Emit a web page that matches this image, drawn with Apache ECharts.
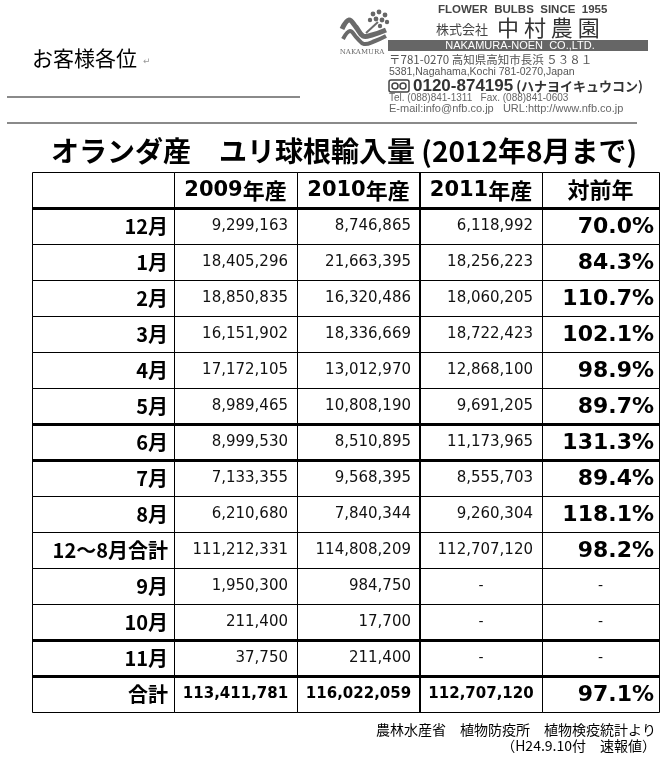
<!DOCTYPE html>
<html>
<head>
<meta charset="utf-8">
<script src="https://cdn.jsdelivr.net/npm/echarts@6/dist/echarts.min.js"></script>
<style>
  html, body { margin: 0; padding: 0; background: #fff; }
  #main { width: 670px; height: 758px; }
</style>
</head>
<body>
<div id="main"></div>
<script>
// 表の中身
const rowLabels = ['12月', '1月', '2月', '3月', '4月', '5月', '6月', '7月', '8月', '12～8月合計', '9月', '10月', '11月', '合計'];
const yearHeaders = ['2009年産', '2010年産', '2011年産'];
const ratioHeader = '対前年';
const imports2009 = [9299163, 18405296, 18850835, 16151902, 17172105, 8989465, 8999530, 7133355, 6210680, 111212331, 1950300, 211400, 37750, 113411781];
const imports2010 = [8746865, 21663395, 16320486, 18336669, 13012970, 10808190, 8510895, 9568395, 7840344, 114808209, 984750, 17700, 211400, 116022059];
const imports2011 = [6118992, 18256223, 18060205, 18722423, 12868100, 9691205, 11173965, 8555703, 9260304, 112707120, null, null, null, 112707120];
const yoyRatio = [70.0, 84.3, 110.7, 102.1, 98.9, 89.7, 131.3, 89.4, 118.1, 98.2, null, null, null, 97.1];

// レイアウト（列の境界、太線の行）
const colEdges = [0, 142, 265, 388, 510, 627];
const thickBottomRows = [0, 6, 7, 12, 13];
const thickLeftCol = 3;

const series = [imports2009, imports2010, imports2011];
const yCats = [''].concat(rowLabels);
const lastRow = rowLabels.length - 1;

const CJK = '"Noto Sans CJK JP"';
const NUM = '"DejaVu Sans"';

function fmt(v) {
  return String(v).replace(/\B(?=(\d{3})+(?!\d))/g, ',');
}

const cells = [];
for (let r = 0; r < yCats.length; r++) {
  for (let c = 0; c < colEdges.length - 1; c++) {
    cells.push([c, r]);
  }
}

function cellText(c, r, x0, x1, cy) {
  const mid = (x0 + x1) / 2;
  if (r === 0) {
    if (c === 0) return null;
    if (c === 4) {
      return { text: ratioHeader, x: mid, y: cy, align: 'center', verticalAlign: 'middle',
        font: 'bold 22px ' + CJK, fill: '#000' };
    }
    const h = yearHeaders[c - 1];
    return {
      text: '{d|' + h.slice(0, 4) + '}{c|' + h.slice(4) + '}',
      x: mid, y: cy + 1, align: 'center', verticalAlign: 'middle',
      rich: {
        d: { font: 'bold 21px ' + NUM, fill: '#000' },
        c: { font: 'bold 22px ' + CJK, fill: '#000' }
      }
    };
  }
  const i = r - 1;
  if (c === 0) {
    return { text: rowLabels[i], x: x1 - 6, y: cy, align: 'right', verticalAlign: 'middle',
      font: 'bold 20px ' + CJK, fill: '#000' };
  }
  if (c <= 3) {
    const v = series[c - 1][i];
    if (v == null) {
      return { text: '-', x: mid, y: cy, align: 'center', verticalAlign: 'middle',
        font: '14px ' + NUM, fill: '#111' };
    }
    if (i === lastRow) {
      return { text: fmt(v), x: mid, y: cy, align: 'center', verticalAlign: 'middle',
        font: 'bold 15px ' + NUM, fill: '#000' };
    }
    return { text: fmt(v), x: x1 - 9, y: cy, align: 'right', verticalAlign: 'middle',
      font: '15px ' + NUM, fill: '#111' };
  }
  const p = yoyRatio[i];
  if (p == null) {
    return { text: '-', x: mid, y: cy, align: 'center', verticalAlign: 'middle',
      font: '14px ' + NUM, fill: '#111' };
  }
  return { text: p.toFixed(1) + '%', x: x1 - 5, y: cy + 1, align: 'right', verticalAlign: 'middle',
    font: 'bold 22px ' + NUM, fill: '#000' };
}

function renderCell(params, api) {
  const c = api.value(0);
  const r = api.value(1);
  const a = api.coord([colEdges[c], r]);
  const b = api.coord([colEdges[c + 1], r]);
  const h = api.size([0, 1])[1];
  const x0 = Math.round(a[0]);
  const x1 = Math.round(b[0]);
  const y0 = Math.round(a[1] - h / 2);
  const y1 = Math.round(a[1] + h / 2);
  const children = [{
    type: 'rect',
    shape: { x: x0 + 0.5, y: y0 + 0.5, width: x1 - x0, height: y1 - y0 },
    style: { fill: 'none', stroke: '#000', lineWidth: 1 }
  }];
  if (thickBottomRows.indexOf(r) >= 0) {
    children.push({ type: 'line', shape: { x1: x0, y1: y1 + 0.5, x2: x1 + 1, y2: y1 + 0.5 },
      style: { stroke: '#000', lineWidth: 3 } });
  }
  if (c === thickLeftCol) {
    children.push({ type: 'line', shape: { x1: x0, y1: y0, x2: x0, y2: y1 + 1 },
      style: { stroke: '#000', lineWidth: 2 } });
  }
  const t = cellText(c, r, x0, x1, (y0 + y1) / 2);
  if (t) children.push({ type: 'text', style: t });
  return { type: 'group', children: children };
}

// 上部のレターヘッド
const gray = '#555';
const header = [
  { type: 'text', x: 32, y: 58, style: { text: 'お客様各位', font: '21px ' + CJK, fill: '#000', verticalAlign: 'middle' } },
  { type: 'text', x: 143, y: 62, style: { text: '↵', font: '9px ' + NUM, fill: '#999', verticalAlign: 'middle' } },
  { type: 'line', shape: { x1: 7, y1: 97, x2: 300, y2: 97 }, style: { stroke: '#8a8a8a', lineWidth: 2 } },
  { type: 'line', shape: { x1: 7, y1: 123, x2: 637, y2: 123 }, style: { stroke: '#8a8a8a', lineWidth: 2 } },
  // ロゴ
  { type: 'polyline', shape: { points: [[342, 29], [349, 20], [356, 27], [363, 36], [372, 35], [386, 30]], smooth: 0.4 },
    style: { stroke: '#6a6a6a', lineWidth: 5, fill: 'none' } },
  { type: 'polyline', shape: { points: [[343, 39], [350, 31], [357, 38], [364, 44], [375, 41], [386, 36]], smooth: 0.4 },
    style: { stroke: '#6a6a6a', lineWidth: 4, fill: 'none' } },
  { type: 'line', shape: { x1: 366, y1: 33, x2: 378, y2: 22 }, style: { stroke: '#6a6a6a', lineWidth: 2 } },
  { type: 'circle', shape: { cx: 373, cy: 14, r: 2.4 }, style: { fill: '#666' } },
  { type: 'circle', shape: { cx: 379, cy: 12, r: 2.4 }, style: { fill: '#666' } },
  { type: 'circle', shape: { cx: 385, cy: 15, r: 2.4 }, style: { fill: '#666' } },
  { type: 'circle', shape: { cx: 376, cy: 19, r: 2.4 }, style: { fill: '#666' } },
  { type: 'circle', shape: { cx: 382, cy: 20, r: 2.4 }, style: { fill: '#666' } },
  { type: 'circle', shape: { cx: 387, cy: 22, r: 2.2 }, style: { fill: '#666' } },
  { type: 'circle', shape: { cx: 370, cy: 20, r: 2.2 }, style: { fill: '#666' } },
  { type: 'circle', shape: { cx: 380, cy: 26, r: 2.2 }, style: { fill: '#666' } },
  { type: 'text', x: 362, y: 52, style: { text: 'NAKAMURA', font: '7px "DejaVu Serif"', fill: '#666', align: 'center', verticalAlign: 'middle' } },
  // 会社名
  { type: 'text', x: 438, y: 10, style: { text: 'FLOWER  BULBS  SINCE  1955', font: 'bold 11.5px "Liberation Sans"', fill: '#444', verticalAlign: 'middle' } },
  { type: 'text', x: 436, y: 29, style: { text: '株式会社', font: '13px ' + CJK, fill: '#444', verticalAlign: 'middle' } },
  { type: 'text', x: 497, y: 28, style: { text: '中 村 農 園', font: '22px ' + CJK, fill: '#333', verticalAlign: 'middle' } },
  { type: 'rect', shape: { x: 388, y: 40, width: 260, height: 11 }, style: { fill: '#666' } },
  { type: 'text', x: 520, y: 46, style: { text: 'NAKAMURA-NOEN  CO.,LTD.', font: '11px "Liberation Sans"', fill: '#fff', align: 'center', verticalAlign: 'middle' } },
  { type: 'text', x: 389, y: 60, style: { text: '〒781-0270 高知県高知市長浜 ５３８１', font: '11.5px ' + CJK, fill: gray, verticalAlign: 'middle' } },
  { type: 'text', x: 389, y: 72, style: { text: '5381,Nagahama,Kochi 781-0270,Japan', font: '10.5px "Liberation Sans"', fill: gray, verticalAlign: 'middle' } },
  { type: 'rect', shape: { x: 389, y: 80, width: 20, height: 12, r: 2 }, style: { fill: 'none', stroke: '#444', lineWidth: 1.5 } },
  { type: 'circle', shape: { cx: 395, cy: 86, r: 3 }, style: { fill: 'none', stroke: '#444', lineWidth: 1.5 } },
  { type: 'circle', shape: { cx: 403, cy: 86, r: 3 }, style: { fill: 'none', stroke: '#444', lineWidth: 1.5 } },
  { type: 'text', x: 413, y: 86, style: {
    text: '{a|0120-874195}{b| (ハナヨイキュウコン)}', verticalAlign: 'middle',
    rich: {
      a: { font: 'bold 17px "Liberation Sans"', fill: '#333' },
      b: { font: 'bold 13px ' + CJK, fill: '#333' }
    } } },
  { type: 'text', x: 389, y: 98, style: { text: 'Tel. (088)841-1311   Fax. (088)841-0603', font: '10px "Liberation Sans"', fill: '#666', verticalAlign: 'middle' } },
  { type: 'text', x: 389, y: 109, style: { text: 'E-mail:info@nfb.co.jp   URL:http://www.nfb.co.jp', font: '11px "Liberation Sans"', fill: '#666', verticalAlign: 'middle' } },
  // タイトル
  { type: 'text', x: 51, y: 151, style: { text: 'オランダ産　ユリ球根輸入量 (2012年8月まで)', font: 'bold 28px ' + CJK, fill: '#000', verticalAlign: 'middle' } },
  // 出典
  { type: 'text', x: 656, y: 730, style: { text: '農林水産省　植物防疫所　植物検疫統計より', font: '14px ' + CJK, fill: '#000', align: 'right', verticalAlign: 'middle' } },
  { type: 'text', x: 656, y: 746, style: { text: '（H24.9.10付　速報値）', font: '14px ' + CJK, fill: '#000', align: 'right', verticalAlign: 'middle' } }
];

const chart = echarts.init(document.getElementById('main'), null, { renderer: 'canvas' });
chart.setOption({
  animation: false,
  backgroundColor: '#fff',
  grid: { left: 32, top: 172, width: 627, height: 540 },
  xAxis: { type: 'value', min: 0, max: colEdges[colEdges.length - 1], show: false },
  yAxis: { type: 'category', data: yCats, inverse: true, show: false },
  graphic: header,
  series: [{
    type: 'custom',
    renderItem: renderCell,
    data: cells,
    silent: true
  }]
});
</script>
</body>
</html>
